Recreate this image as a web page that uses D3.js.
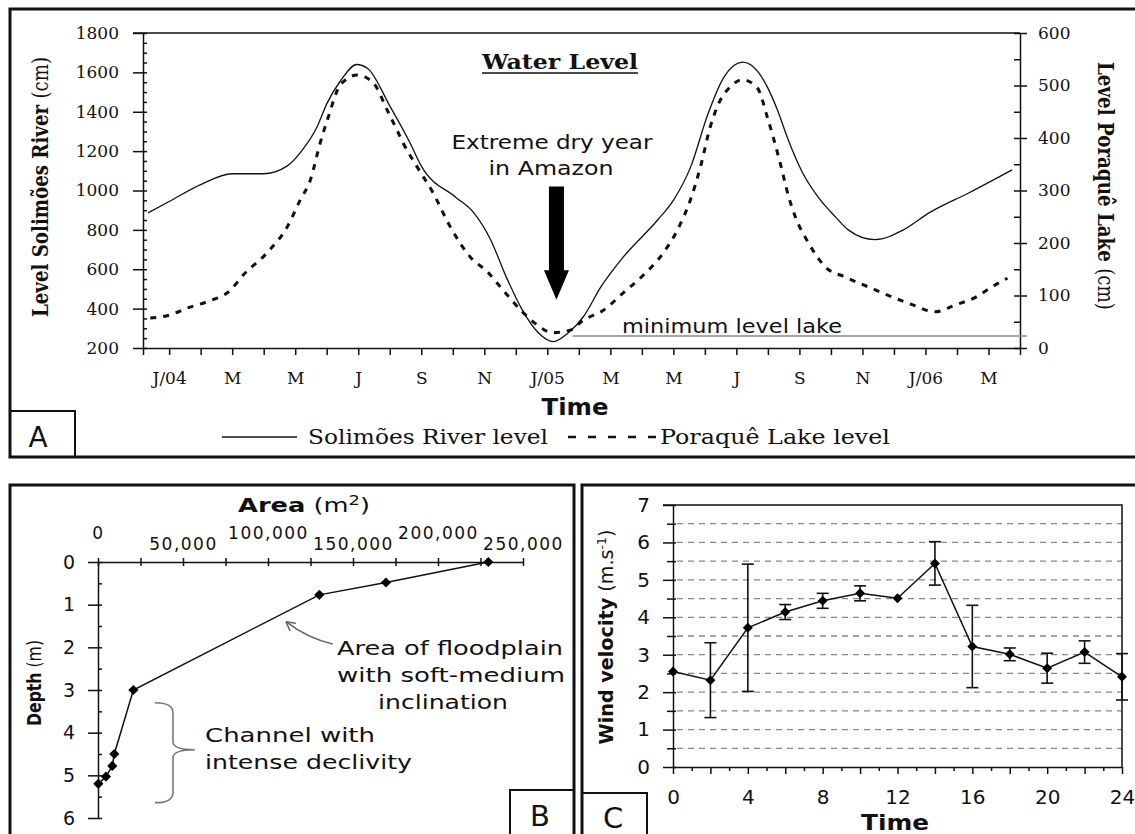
<!DOCTYPE html>
<html>
<head>
<meta charset="utf-8">
<script src="https://cdn.jsdelivr.net/npm/d3@7"></script>
<style>
  body { margin: 0; background: #fff; }
  text { fill: #111; }
</style>
</head>
<body>
<div class="chart"></div>
<script>
// ---- panel A : water level (months counted from Jan 2004) ----
var monthLabels = ["J/04", "M", "M", "J", "S", "N", "J/05", "M", "M", "J", "S", "N", "J/06", "M"];
var riverMonth = [-0.67, 0, 1, 2, 3, 3.75, 4.2, 4.7, 5.0, 5.45, 5.95, 6.3, 7.0, 7.65, 8.0, 9.1, 9.65, 10.2, 10.7, 11.2, 11.7, 12.2, 12.65, 13.15, 13.7, 14.4, 15.5, 16.0, 16.55, 17.1, 17.6, 18.2, 18.7, 19.0, 19.3, 19.65, 20.1, 20.6, 21.15, 21.55, 22.4, 23.3, 24.1, 25.4, 26.75];
var riverLevel = [886, 944, 1030, 1085, 1085, 1125, 1200, 1325, 1440, 1560, 1640, 1620, 1430, 1240, 1125, 965, 890, 750, 560, 395, 280, 232, 275, 360, 510, 660, 850, 950, 1120, 1390, 1575, 1652, 1600, 1520, 1410, 1255, 1090, 965, 865, 800, 750, 800, 885, 990, 1105];
var lakeMonth = [-0.6, 0.03, 0.57, 1.2, 1.94, 2.35, 3.1, 3.75, 4.16, 4.48, 4.79, 5.05, 5.43, 5.97, 6.48, 6.92, 7.27, 7.43, 7.87, 8.38, 8.92, 9.56, 10.1, 10.6, 11.24, 11.68, 12.16, 12.73, 13.14, 13.78, 14.41, 15.05, 15.68, 16.13, 16.54, 16.86, 17.17, 17.49, 17.8, 18.19, 18.67, 18.98, 19.4, 19.65, 19.87, 20.29, 20.83, 21.46, 22.2, 22.95, 23.6, 24.3, 24.95, 25.6, 26.1, 26.6];
var lakeLevel = [57, 63, 76, 88, 110, 139, 181, 231, 282, 320, 390, 440, 501, 520, 505, 453, 410, 390, 345, 295, 231, 173, 145, 110, 67, 44, 29, 34, 53, 72, 105, 139, 181, 225, 282, 345, 421, 472, 497, 511, 495, 440, 350, 290, 250, 200, 154, 135, 116, 97, 82, 69, 82, 97, 116, 133];
var minLakeLevel = 23;
var arrowMonth = 12.29, arrowTop = 1020, arrowHeadTop = 595, arrowTip = 445;

// ---- panel B : depth vs area ----
var areaB = [229600, 169400, 130200, 20800, 9600, 8400, 4700, 200];
var depthB = [0, 0.48, 0.77, 3.0, 4.5, 4.78, 5.03, 5.2];

// ---- panel C : wind velocity ----
var hourC = [0, 2, 4, 6, 8, 10, 12, 14, 16, 18, 20, 22, 24];
var windC = [2.55, 2.32, 3.72, 4.14, 4.44, 4.64, 4.51, 5.44, 3.22, 3.01, 2.64, 3.07, 2.41];
var windErr = [0, 1.0, 1.7, 0.2, 0.2, 0.2, 0, 0.58, 1.1, 0.17, 0.4, 0.3, 0.62];

var SERIF = "DejaVu Serif", SANS = "DejaVu Sans";

var svg = d3.select(".chart").append("svg")
  .attr("width", 1135)
  .attr("height", 834)
  .style("background", "#fff");

// stretch helper, the original text is drawn wide
function fit(t, w) {
  return t.attr("textLength", w).attr("lengthAdjust", "spacingAndGlyphs");
}
function styleAxis(g, family, size) {
  g.selectAll("text").style("font-family", family).style("font-size", size + "px").attr("fill", "#111");
  g.selectAll("line, path").attr("stroke", "#111").attr("stroke-width", 1.5);
}

// frames
svg.append("rect").attr("x", 10).attr("y", 9).attr("width", 1140).attr("height", 448)
  .attr("fill", "none").attr("stroke", "#111").attr("stroke-width", 3);
svg.append("rect").attr("x", 10).attr("y", 485).attr("width", 564).attr("height", 400)
  .attr("fill", "none").attr("stroke", "#111").attr("stroke-width", 3);
svg.append("rect").attr("x", 582).attr("y", 485).attr("width", 600).attr("height", 400)
  .attr("fill", "none").attr("stroke", "#111").attr("stroke-width", 3);

// ================= A =================
var xA = d3.scaleLinear().domain([-0.83, 27]).range([143, 1020]);
var yRiver = d3.scaleLinear().domain([200, 1800]).range([348, 33]);
var yLake = d3.scaleLinear().domain([0, 600]).range([348, 33]);

var gA = svg.append("g");

gA.append("line").attr("x1", 133).attr("x2", 1020).attr("y1", yRiver(1800)).attr("y2", yRiver(1800))
  .attr("stroke", "#111").attr("stroke-width", 1.5);

var axL = gA.append("g").attr("transform", "translate(143,0)")
  .call(d3.axisLeft(yRiver).tickValues(d3.range(200, 1801, 200)).tickSize(10).tickSizeOuter(0).tickPadding(14)
    .tickFormat(d3.format("d")));
styleAxis(axL, SERIF, 17);
var axLm = gA.append("g").attr("transform", "translate(143,0)")
  .call(d3.axisRight(yRiver).tickValues(d3.range(200, 1801, 50)).tickSize(4).tickFormat(""));
axLm.select(".domain").remove();
styleAxis(axLm, SERIF, 17);

var axR = gA.append("g").attr("transform", "translate(1020,0)")
  .call(d3.axisRight(yLake).tickValues(d3.range(0, 601, 100)).tickSize(7).tickSizeOuter(0).tickPadding(11)
    .tickFormat(d3.format("d")));
styleAxis(axR, SERIF, 17);
var axRm = gA.append("g").attr("transform", "translate(1020,0)")
  .call(d3.axisLeft(yLake).tickValues(d3.range(0, 601, 50)).tickSize(6).tickFormat(""));
axRm.select(".domain").remove();
styleAxis(axRm, SERIF, 17);

var axB = gA.append("g").attr("transform", "translate(0,348)")
  .call(d3.axisBottom(xA).tickValues([-0.83].concat(d3.range(0, 28))).tickSize(7).tickSizeOuter(0).tickPadding(17)
    .tickFormat(function(d) { return (d >= 0 && d % 2 === 0) ? monthLabels[d / 2] : ""; }));
styleAxis(axB, SERIF, 17);

// minimum level line
gA.append("line")
  .attr("x1", xA(12.8)).attr("x2", xA(27) + 7)
  .attr("y1", yLake(minLakeLevel)).attr("y2", yLake(minLakeLevel))
  .attr("stroke", "#888").attr("stroke-width", 1.5);

var riverLine = d3.line().x(function(d) { return xA(d[0]); }).y(function(d) { return yRiver(d[1]); })
  .curve(d3.curveMonotoneX);
var lakeLine = d3.line().x(function(d) { return xA(d[0]); }).y(function(d) { return yLake(d[1]); })
  .curve(d3.curveMonotoneX);

gA.append("path").attr("d", riverLine(d3.zip(riverMonth, riverLevel)))
  .attr("fill", "none").attr("stroke", "#111").attr("stroke-width", 1.3);
gA.append("path").attr("d", lakeLine(d3.zip(lakeMonth, lakeLevel)))
  .attr("fill", "none").attr("stroke", "#111").attr("stroke-width", 3)
  .attr("stroke-dasharray", "6,7");

// arrow
var ax = xA(arrowMonth), aTop = yRiver(arrowTop), aHead = yRiver(arrowHeadTop), aTip = yRiver(arrowTip);
gA.append("path")
  .attr("d", "M" + (ax - 7.5) + "," + aTop + "H" + (ax + 7.5) + "V" + aHead + "H" + (ax + 12.5) +
    "L" + ax + "," + aTip + "L" + (ax - 12.5) + "," + aHead + "H" + (ax - 7.5) + "Z")
  .attr("fill", "#000");

fit(gA.append("text").attr("x", 552).attr("y", 149).attr("text-anchor", "middle")
  .style("font-family", SANS).style("font-size", "19px").text("Extreme dry year"), 201);
fit(gA.append("text").attr("x", 551).attr("y", 175).attr("text-anchor", "middle")
  .style("font-family", SANS).style("font-size", "19px").text("in Amazon"), 125);
fit(gA.append("text").attr("x", 622).attr("y", 333)
  .style("font-family", SANS).style("font-size", "19px").text("minimum level lake"), 220);

fit(gA.append("text").attr("x", 560).attr("y", 69).attr("text-anchor", "middle")
  .style("font-family", SERIF).style("font-size", "20px").style("font-weight", "bold").text("Water Level"), 156);
gA.append("line").attr("x1", 482).attr("x2", 638).attr("y1", 73).attr("y2", 73)
  .attr("stroke", "#111").attr("stroke-width", 1.5);

fit(gA.append("text").attr("x", 575).attr("y", 415).attr("text-anchor", "middle")
  .style("font-family", SANS).style("font-size", "23px").style("font-weight", "bold").text("Time"), 67);

// axis titles
var tl = gA.append("text").attr("transform", "translate(40,187) rotate(-90)").attr("text-anchor", "middle")
  .attr("dy", "0.35em").style("font-family", SERIF).style("font-size", "22px");
tl.append("tspan").style("font-weight", "bold").text("Level Solimões River ");
tl.append("tspan").text("(cm)");
fit(tl, 260);
var tr = gA.append("text").attr("transform", "translate(1106,186) rotate(90)").attr("text-anchor", "middle")
  .attr("dy", "0.35em").style("font-family", SERIF).style("font-size", "22px");
tr.append("tspan").style("font-weight", "bold").text("Level Poraquê Lake ");
tr.append("tspan").text("(cm)");
fit(tr, 248);

// legend
gA.append("line").attr("x1", 222).attr("x2", 297).attr("y1", 437).attr("y2", 437)
  .attr("stroke", "#111").attr("stroke-width", 1.3);
fit(gA.append("text").attr("x", 308).attr("y", 444)
  .style("font-family", SERIF).style("font-size", "20px").text("Solimões River level"), 240);
gA.append("line").attr("x1", 568).attr("x2", 657).attr("y1", 437).attr("y2", 437)
  .attr("stroke", "#111").attr("stroke-width", 2.5).attr("stroke-dasharray", "8,12");
fit(gA.append("text").attr("x", 660).attr("y", 444)
  .style("font-family", SERIF).style("font-size", "20px").text("Poraquê Lake level"), 230);

// panel letter
gA.append("rect").attr("x", 10).attr("y", 411).attr("width", 65).attr("height", 46)
  .attr("fill", "none").attr("stroke", "#111").attr("stroke-width", 2);
gA.append("text").attr("x", 38).attr("y", 447).attr("text-anchor", "middle")
  .style("font-family", SANS).style("font-size", "28px").text("A");

// ================= B =================
var xB = d3.scaleLinear().domain([0, 250000]).range([98, 523]);
var yB = d3.scaleLinear().domain([0, 6]).range([562, 818]);
var gB = svg.append("g");

var bTop = gB.append("g").attr("transform", "translate(0,562)")
  .call(d3.axisTop(xB).tickValues(d3.range(0, 250001, 25000)).tickSize(4).tickSizeOuter(0)
    .tickFormat(function(d) { return d % 50000 === 0 ? d3.format(",")(d) : ""; }));
bTop.selectAll("text").attr("y", function(d) { return (d / 50000) % 2 === 0 ? -23 : -12; })
  .style("letter-spacing", "1.5px");
styleAxis(bTop, SANS, 17);
var bTop2 = gB.append("g").attr("transform", "translate(0,562)")
  .call(d3.axisBottom(xB).tickValues(d3.range(0, 250001, 25000)).tickSize(4).tickFormat(""));
bTop2.select(".domain").remove();
styleAxis(bTop2, SANS, 17);

var bLeft = gB.append("g").attr("transform", "translate(98,0)")
  .call(d3.axisLeft(yB).tickValues(d3.range(0, 7)).tickSize(10).tickSizeOuter(0).tickPadding(13)
    .tickFormat(d3.format("d")));
styleAxis(bLeft, SANS, 19);
var bLeft2 = gB.append("g").attr("transform", "translate(98,0)")
  .call(d3.axisRight(yB).tickValues(d3.range(0, 6.01, 0.5)).tickSize(4).tickFormat(""));
bLeft2.select(".domain").remove();
styleAxis(bLeft2, SANS, 19);

gB.append("path")
  .attr("d", d3.line().x(function(d) { return xB(d[0]); }).y(function(d) { return yB(d[1]); })(d3.zip(areaB, depthB)))
  .attr("fill", "none").attr("stroke", "#111").attr("stroke-width", 1.5);
gB.selectAll(".mk").data(d3.zip(areaB, depthB)).enter().append("path")
  .attr("d", d3.symbol(d3.symbolSquare, 52))
  .attr("transform", function(d) { return "translate(" + xB(d[0]) + "," + yB(d[1]) + ") rotate(45)"; })
  .attr("fill", "#000");

// title
var tA = gB.append("text").attr("x", 304).attr("y", 512).attr("text-anchor", "middle")
  .style("font-family", SANS).style("font-size", "20px");
tA.append("tspan").style("font-weight", "bold").text("Area");
tA.append("tspan").text(" (m");
tA.append("tspan").attr("dy", -7).style("font-size", "14px").text("2");
tA.append("tspan").attr("dy", 7).text(")");
fit(tA, 132);

var tD = gB.append("text").attr("transform", "translate(34,683) rotate(-90)").attr("text-anchor", "middle")
  .attr("dy", "0.35em").style("font-family", SANS).style("font-size", "19px");
tD.append("tspan").style("font-weight", "bold").text("Depth");
tD.append("tspan").text(" (m)");
fit(tD, 86);

// floodplain annotation
var tipX = xB(110600), tipY = yB(1.4), tailX = xB(138000), tailY = yB(1.92);
gB.append("path")
  .attr("d", "M" + tailX + "," + tailY + " Q" + (tipX + 22) + "," + (tipY + 17) + " " + tipX + "," + tipY)
  .attr("fill", "none").attr("stroke", "#666").attr("stroke-width", 1.6);
var ang = Math.atan2(tipY - (tipY + 17), tipX - (tipX + 22));
[-0.5, 0.5].forEach(function(o) {
  gB.append("line").attr("x1", tipX).attr("y1", tipY)
    .attr("x2", tipX - 10 * Math.cos(ang + o)).attr("y2", tipY - 10 * Math.sin(ang + o))
    .attr("stroke", "#666").attr("stroke-width", 1.6);
});
[["Area of floodplain", 450, 655, 226], ["with soft-medium", 451, 682, 228], ["inclination", 443, 709, 130]].forEach(function(r) {
  fit(gB.append("text").attr("x", r[1]).attr("y", r[2]).attr("text-anchor", "middle")
    .style("font-family", SANS).style("font-size", "19px").attr("fill", "#222").text(r[0]), r[3]);
});

// channel brace
var bx0 = xB(33500), bx1 = xB(44100), bxt = xB(57000);
var by0 = yB(3.3), bym = yB(4.4), by1 = yB(5.64);
gB.append("path")
  .attr("d", "M" + bx0 + "," + by0 + " Q" + bx1 + "," + by0 + " " + bx1 + "," + (by0 + 10) +
    " L" + bx1 + "," + (bym - 8) + " Q" + bx1 + "," + bym + " " + bxt + "," + bym +
    " Q" + bx1 + "," + bym + " " + bx1 + "," + (bym + 8) +
    " L" + bx1 + "," + (by1 - 10) + " Q" + bx1 + "," + by1 + " " + bx0 + "," + by1)
  .attr("fill", "none").attr("stroke", "#777").attr("stroke-width", 1.6);
fit(gB.append("text").attr("x", 205).attr("y", 742)
  .style("font-family", SANS).style("font-size", "19px").attr("fill", "#222").text("Channel with"), 170);
fit(gB.append("text").attr("x", 205).attr("y", 769)
  .style("font-family", SANS).style("font-size", "19px").attr("fill", "#222").text("intense declivity"), 207);

gB.append("rect").attr("x", 510).attr("y", 790).attr("width", 64).attr("height", 60)
  .attr("fill", "none").attr("stroke", "#111").attr("stroke-width", 2);
gB.append("text").attr("x", 540).attr("y", 826).attr("text-anchor", "middle")
  .style("font-family", SANS).style("font-size", "29px").text("B");

// ================= C =================
var xC = d3.scaleLinear().domain([0, 24]).range([673, 1122]);
var yC = d3.scaleLinear().domain([0, 7]).range([767, 505]);
var gC = svg.append("g");

gC.selectAll(".grid").data(d3.range(0.5, 7, 0.5)).enter().append("line")
  .attr("x1", xC(0) + 4).attr("x2", xC(24)).attr("y1", function(d) { return yC(d); }).attr("y2", function(d) { return yC(d); })
  .attr("stroke", "#888").attr("stroke-width", 1.3).attr("stroke-dasharray", "6,5");
gC.append("path")
  .attr("d", "M" + (xC(0) - 10) + "," + yC(7) + "H" + xC(24) + "V" + yC(0))
  .attr("fill", "none").attr("stroke", "#111").attr("stroke-width", 1.5);

var cLeft = gC.append("g").attr("transform", "translate(673,0)")
  .call(d3.axisLeft(yC).tickValues(d3.range(0, 8)).tickSize(10).tickSizeOuter(0).tickPadding(13)
    .tickFormat(d3.format("d")));
styleAxis(cLeft, SANS, 20);
var cLeft2 = gC.append("g").attr("transform", "translate(673,0)")
  .call(d3.axisLeft(yC).tickValues(d3.range(0.5, 7, 1)).tickSize(6).tickFormat(""));
cLeft2.select(".domain").remove();
styleAxis(cLeft2, SANS, 20);
var cLeft3 = gC.append("g").attr("transform", "translate(673,0)")
  .call(d3.axisRight(yC).tickValues(d3.range(0, 7.01, 0.5)).tickSize(3).tickFormat(""));
cLeft3.select(".domain").remove();
styleAxis(cLeft3, SANS, 20);

var cBot = gC.append("g").attr("transform", "translate(0,767)")
  .call(d3.axisBottom(xC).tickValues(d3.range(0, 25, 2)).tickSize(7).tickSizeOuter(0).tickPadding(16)
    .tickFormat(function(d) { return d % 4 === 0 ? d : ""; }));
styleAxis(cBot, SANS, 20);
var cBot2 = gC.append("g").attr("transform", "translate(0,767)")
  .call(d3.axisBottom(xC).tickValues(d3.range(1, 24, 2)).tickSize(4).tickFormat(""));
cBot2.select(".domain").remove();
styleAxis(cBot2, SANS, 20);

// error bars
var cData = hourC.map(function(h, i) { return { h: h, v: windC[i], e: windErr[i] }; });
var eb = gC.selectAll(".eb").data(cData.filter(function(d) { return d.e > 0; })).enter().append("g");
eb.append("line").attr("x1", function(d) { return xC(d.h); }).attr("x2", function(d) { return xC(d.h); })
  .attr("y1", function(d) { return yC(d.v + d.e); }).attr("y2", function(d) { return yC(d.v - d.e); });
eb.append("line").attr("x1", function(d) { return xC(d.h) - 6; }).attr("x2", function(d) { return xC(d.h) + 6; })
  .attr("y1", function(d) { return yC(d.v + d.e); }).attr("y2", function(d) { return yC(d.v + d.e); });
eb.append("line").attr("x1", function(d) { return xC(d.h) - 6; }).attr("x2", function(d) { return xC(d.h) + 6; })
  .attr("y1", function(d) { return yC(d.v - d.e); }).attr("y2", function(d) { return yC(d.v - d.e); });
eb.selectAll("line").attr("stroke", "#111").attr("stroke-width", 1.6);

gC.append("path")
  .attr("d", d3.line().x(function(d) { return xC(d.h); }).y(function(d) { return yC(d.v); })(cData))
  .attr("fill", "none").attr("stroke", "#111").attr("stroke-width", 1.5);
gC.selectAll(".mk").data(cData).enter().append("path")
  .attr("d", d3.symbol(d3.symbolSquare, 50))
  .attr("transform", function(d) { return "translate(" + xC(d.h) + "," + yC(d.v) + ") rotate(45)"; })
  .attr("fill", "#000");

fit(gC.append("text").attr("x", 895).attr("y", 830).attr("text-anchor", "middle")
  .style("font-family", SANS).style("font-size", "21px").style("font-weight", "bold").text("Time"), 68);

var tW = gC.append("text").attr("transform", "translate(606,637) rotate(-90)").attr("text-anchor", "middle")
  .attr("dy", "0.35em").style("font-family", SANS).style("font-size", "20px");
tW.append("tspan").style("font-weight", "bold").text("Wind velocity");
tW.append("tspan").text(" (m.s");
tW.append("tspan").attr("dy", -7).style("font-size", "13px").text("-1");
tW.append("tspan").attr("dy", 7).text(")");
fit(tW, 215);

gC.append("rect").attr("x", 582).attr("y", 793).attr("width", 65).attr("height", 60)
  .attr("fill", "none").attr("stroke", "#111").attr("stroke-width", 2);
gC.append("text").attr("x", 613).attr("y", 828).attr("text-anchor", "middle")
  .style("font-family", SANS).style("font-size", "29px").text("C");
</script>
</body>
</html>
